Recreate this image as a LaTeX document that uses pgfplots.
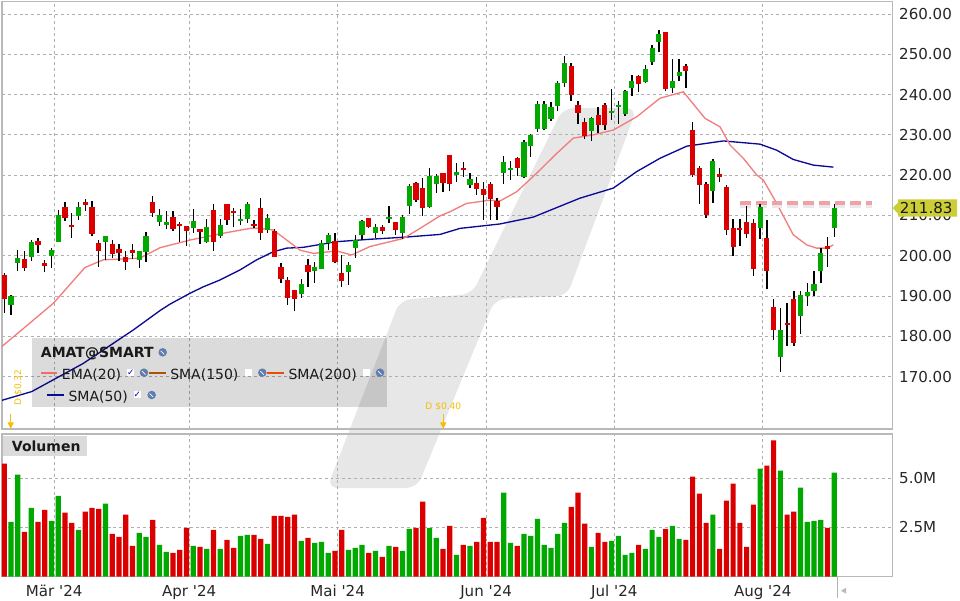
\documentclass[border=0pt]{standalone}
\usepackage{pgfplots}
\pgfplotsset{compat=1.18}
\usepackage{pgfplotstable}
\usetikzlibrary{arrows.meta}
\usepackage{fontspec}
\setmainfont{DejaVu Sans}
\setsansfont{DejaVu Sans}
\definecolor{cgreen}{RGB}{0,168,0}
\definecolor{cred}{RGB}{218,0,0}
\definecolor{emac}{RGB}{242,125,125}
\definecolor{smac}{RGB}{10,10,150}
\definecolor{gridc}{RGB}{175,175,175}
\definecolor{wm}{RGB}{231,231,231}
\definecolor{divc}{RGB}{245,190,0}
\definecolor{lblc}{RGB}{205,205,55}
\definecolor{brownc}{RGB}{170,85,0}
\definecolor{orangec}{RGB}{232,80,0}
\definecolor{globec}{RGB}{95,125,175}
\definecolor{levelc}{RGB}{240,160,168}
\newcommand{\tickfont}{\fontsize{11.3}{13}\selectfont}
\newcommand{\legfont}{\fontsize{10.5}{12}\selectfont}
\newcommand{\globe}[2]{\fill[globec] (#1,#2) circle (3.2pt); \draw[white,line width=0.5pt] (#1-2,#2-1.5) -- (#1+1.5,#2+2);}
\newcommand{\cbox}[2]{\fill[white] (#1-3.5,#2-3.5) rectangle (#1+3.5,#2+3.5);}
\pgfplotstableread{
i O H L C V
0 195.2 195.8 185.7 189.2 5.75
1 187.8 190.3 185.3 190.0 2.79
2 198.3 201.4 196.3 199.5 5.19
3 199.2 201.3 196.3 197.0 2.28
4 199.8 203.9 198.8 203.4 3.50
5 203.7 204.4 200.8 202.8 2.79
6 198.2 199.0 196.1 197.5 3.40
7 199.95 201.9 196.9 201.4 2.84
8 203.5 211.4 203.5 210.1 4.11
9 212.1 213.3 208.7 209.5 3.25
10 207.6 210.5 204.5 207.1 2.74
11 209.96 213.3 209.0 212.1 2.38
12 213.35 214.1 211.1 212.7 3.30
13 212.1 213.6 204.9 205.4 3.50
14 203.2 203.9 197.3 201.3 3.45
15 203.4 204.9 199.0 204.9 3.71
16 202.9 203.8 199.5 200.4 2.18
17 201.7 202.9 198.7 200.7 2.02
18 199.7 201.3 196.5 198.5 3.15
19 201.5 202.9 199.2 200.7 1.56
20 199.0 201.3 197.0 201.2 2.23
21 201.0 205.9 198.5 204.9 2.02
22 213.35 214.9 209.7 210.7 2.89
23 208.4 211.6 207.5 210.2 1.62
24 207.7 211.1 206.6 208.5 1.26
25 209.6 211.1 206.2 206.7 1.21
26 208.0 208.4 203.4 207.5 1.36
27 207.5 207.5 202.5 206.2 2.48
28 207.0 211.6 205.7 208.6 1.56
29 206.7 206.7 203.0 206.0 1.51
30 203.4 209.1 203.3 207.1 1.41
31 211.4 212.9 201.3 203.3 2.38
32 205.0 209.1 204.5 207.6 1.41
33 212.9 212.9 207.6 209.0 1.87
34 211.1 211.9 207.2 210.5 1.46
35 208.6 211.6 207.7 209.1 2.07
36 209.2 213.4 208.1 212.9 2.13
37 208.0 208.9 206.8 207.5 2.13
38 211.9 214.3 204.0 205.7 1.92
39 206.5 210.4 205.7 209.4 1.67
40 206.2 206.7 199.8 199.8 3.09
41 197.2 198.2 193.2 194.3 3.09
42 194.0 194.7 187.8 189.5 3.04
43 191.5 191.5 186.4 189.4 3.15
44 190.5 194.2 189.6 193.0 1.82
45 197.7 199.3 192.3 196.0 1.97
46 196.3 198.4 193.3 197.2 1.72
47 196.8 203.9 196.8 203.1 1.77
48 203.1 205.6 201.4 205.2 1.21
49 203.7 205.6 198.4 198.5 1.31
50 195.8 200.2 192.3 193.8 2.38
51 196.0 198.4 192.75 197.8 1.36
52 202.0 205.2 199.5 203.9 1.46
53 205.2 208.9 203.9 208.6 1.62
54 209.4 209.4 206.8 207.1 1.21
55 205.7 207.9 204.5 207.1 1.31
56 207.1 207.6 205.4 206.2 1.00
57 209.1 212.4 208.1 209.6 1.56
58 208.4 208.4 205.2 206.4 1.51
59 205.7 210.1 204.2 209.6 1.31
60 212.4 217.8 210.4 217.4 2.43
61 218.1 218.4 213.4 213.8 2.48
62 216.8 219.3 209.9 211.9 3.81
63 212.1 221.8 211.8 219.9 2.48
64 217.9 220.3 215.7 219.9 1.97
65 220.55 220.55 215.8 218.0 1.41
66 225.0 225.0 216.2 217.9 2.58
67 220.0 223.0 218.3 220.8 1.11
68 221.8 223.3 219.6 221.4 1.62
69 217.65 220.55 216.8 219.05 1.56
70 218.05 219.55 215.1 216.65 1.77
71 216.6 218.3 208.9 215.1 2.99
72 217.8 218.3 208.8 214.2 1.77
73 213.6 214.3 208.8 212.2 1.77
74 220.6 224.8 217.8 223.3 4.27
75 221.3 223.4 218.8 221.8 1.72
76 224.3 224.6 219.8 221.9 1.56
77 219.55 228.7 219.3 228.25 2.18
78 227.3 230.2 224.4 230.0 2.07
79 231.5 238.4 230.6 237.7 2.94
80 231.5 238.4 231.2 237.7 1.62
81 233.95 238.2 233.45 236.9 1.46
82 237.25 243.4 236.0 242.95 2.18
83 242.95 249.6 241.95 247.85 2.74
84 247.2 247.9 238.5 240.0 3.55
85 237.5 238.4 232.6 235.5 4.27
86 233.2 234.3 229.1 229.7 2.69
87 231.05 234.4 228.4 234.2 1.51
88 234.9 236.9 230.5 232.5 2.23
89 237.4 237.9 231.2 232.5 1.77
90 235.5 241.4 233.8 236.0 1.82
91 236.9 238.5 232.8 237.4 2.07
92 235.3 241.1 234.8 241.0 1.11
93 241.7 244.9 239.6 243.4 1.21
94 244.6 244.9 240.7 242.6 1.62
95 243.1 247.3 242.9 246.35 1.41
96 248.1 252.4 247.3 251.6 2.38
97 253.05 256.0 250.6 255.05 2.02
98 255.5 255.5 241.0 241.4 2.43
99 241.6 248.8 240.5 243.4 2.58
100 244.6 248.8 243.4 245.6 1.92
101 247.1 247.6 241.6 245.9 1.87
102 231.2 233.2 219.6 220.05 5.08
103 221.8 222.3 212.9 217.65 4.22
104 217.8 218.4 209.5 210.2 2.74
105 216.2 224.0 213.2 223.5 3.15
106 220.3 221.8 218.4 219.6 1.41
107 217.1 217.6 205.25 206.5 3.86
108 206.9 209.1 200.0 202.3 4.73
109 206.9 209.1 202.5 206.5 2.74
110 208.4 212.4 204.5 205.5 1.51
111 208.1 209.1 195.1 196.6 3.66
112 207.0 212.9 204.2 212.1 5.49
113 204.4 209.0 191.85 196.3 5.64
114 187.3 189.3 179.2 181.7 6.92
115 174.9 187.05 171.25 181.6 5.39
116 183.4 188.3 177.5 182.9 3.15
117 189.3 191.3 177.5 178.45 3.30
118 185.15 191.3 180.7 190.3 4.52
119 189.9 193.25 187.6 191.0 2.79
120 191.35 196.2 189.9 193.0 2.84
121 196.3 201.9 193.25 200.7 2.89
122 202.4 204.75 197.3 201.7 2.48
123 207.0 212.85 204.75 211.83 5.29
}\candles
\pgfplotsset{
  panel/.style={
    scale only axis, width=667.875pt,
    xmin=-0.34, xmax=131.62,
    axis line style={draw=gray!55, line width=0.8pt},
    xtick={7.4,27.4,49.4,71.4,90.4,112.4},
    xtick style={draw=none}, ytick style={draw=none},
    xmajorgrids, ymajorgrids,
    major grid style={draw=gridc, line width=0.6pt, dash pattern=on 2.2pt off 2.2pt},
    yticklabel pos=right,
    yticklabel style={font=\tickfont, anchor=west, inner sep=0pt, xshift=4.8pt, text=black!85},
    xticklabel style={font=\tickfont, anchor=north, inner sep=0pt, yshift=-6pt, text=black!85},
    /pgf/number format/assume math mode=true,
  },
  candle/.style={draw=none, mark=none, error bars/y explicit, error bars/error mark=none},
}
\begin{document}
\begin{tikzpicture}
\useasboundingbox (0,0) rectangle (720pt,450pt);
\begin{scope}[x=0.75pt,y=-0.75pt,yshift=450pt]
\fill[wm, rounded corners=8pt] (563,108) -- (637,108) -- (567,296) -- (495,299) -- (417,488) -- (327,488) -- (400,300) -- (472,294) -- cycle;
\end{scope}
% price panel
\begin{axis}[panel,
  at={(1.5pt,128.25pt)}, anchor=south west, height=320.625pt,
  ymin=157.02, ymax=263.10,
  xticklabels={},
  ytick={170,180,...,260},
  /pgf/number format/fixed, /pgf/number format/fixed zerofill, /pgf/number format/precision=2,
]
\addplot[smac, line width=1pt] coordinates {(-0.64,164.0) (4.06,166.3) (11.71,173.3) (19.12,181.6) (23.07,186.4) (24.55,188.0) (27.52,190.7) (29.49,192.3) (31.97,194.0) (34.93,196.5) (37.4,199.0) (39.86,201.0) (41.85,201.9) (44.31,202.1) (49.26,203.5) (54.19,204.1) (59.13,204.6) (64.57,205.3) (67.53,206.8) (73.46,207.9) (78.39,209.6) (83.83,213.3) (85.31,214.3) (90.25,216.8) (93.72,220.9) (97.17,224.2) (101.13,227.2) (106.55,228.5) (112.0,227.7) (114.46,226.2) (116.92,223.9) (119.89,222.5) (122.85,222.0)};
\addplot[emac, line width=1pt] coordinates {(-0.64,177.1) (2.58,181.6) (7.26,188.2) (11.96,197.1) (14.67,199.0) (20.1,199.4) (23.07,202.0) (27.52,203.9) (32.45,205.6) (36.41,206.8) (37.9,206.8) (39.86,206.4) (41.85,203.9) (43.82,201.4) (45.79,200.6) (49.26,201.2) (51.48,200.2) (54.19,202.3) (57.16,203.5) (59.13,204.3) (61.6,206.8) (64.57,209.9) (66.0,210.9) (68.52,213.0) (71.98,213.8) (73.46,213.6) (75.93,215.9) (78.9,220.5) (81.86,225.4) (84.32,229.2) (87.29,230.0) (90.25,231.2) (93.72,234.5) (97.17,239.1) (100.62,240.7) (103.84,234.1) (106.06,232.0) (107.54,227.5) (109.51,224.2) (111.5,220.05) (112.48,218.8) (114.46,213.0) (116.92,205.2) (118.91,202.7) (120.39,201.9) (121.87,201.9) (122.85,202.7)};
% horizontal dashed level
\addplot[gray!18, line width=3.5pt, dash pattern=on 8pt off 3.8pt] coordinates {(109.05,212.4) (128.6,212.4)};
\addplot[levelc, line width=2.8pt, dash pattern=on 8pt off 3.8pt] coordinates {(109.05,213.1) (128.6,213.1)};
% upper wicks
\addplot[candle, error bars/.cd, y dir=plus, error bar style={draw=black, line width=1pt}]
  table[x=i, y expr={max(\thisrow{O},\thisrow{C})}, y error expr={\thisrow{H}-max(\thisrow{O},\thisrow{C})}] {\candles};
% lower wicks
\addplot[candle, error bars/.cd, y dir=minus, error bar style={draw=black, line width=1pt}]
  table[x=i, y expr={min(\thisrow{O},\thisrow{C})}, y error expr={min(\thisrow{O},\thisrow{C})-\thisrow{L}}] {\candles};
% bodies
\addplot[candle, x filter/.expression={\thisrow{C}>=\thisrow{O} ? x : nan},
  error bars/.cd, y dir=both, error bar style={draw=cgreen, line width=3.9pt}]
  table[x=i, y expr=(\thisrow{O}+\thisrow{C})/2, y error expr={max(abs(\thisrow{C}-\thisrow{O})/2,0.2)}] {\candles};
\addplot[candle, x filter/.expression={\thisrow{C}<\thisrow{O} ? x : nan},
  error bars/.cd, y dir=both, error bar style={draw=cred, line width=3.9pt}]
  table[x=i, y expr=(\thisrow{O}+\thisrow{C})/2, y error expr={max(abs(\thisrow{C}-\thisrow{O})/2,0.2)}] {\candles};
\end{axis}
% volume panel
\begin{axis}[panel,
  at={(1.5pt,17.5pt)}, anchor=south west, height=107pt,
  ymin=0, ymax=7.25,
  xticklabels={Mär \textquotesingle 24, Apr \textquotesingle 24, Mai \textquotesingle 24, Jun \textquotesingle 24, Jul \textquotesingle 24, Aug \textquotesingle 24},
  ytick={2.5,5}, yticklabels={2.5M,5.0M},
]
\addplot[ybar, bar width=3.9pt, bar shift=0pt, fill=cgreen, draw=none,
  x filter/.expression={\thisrow{C}>=\thisrow{O} ? x : nan}] table[x=i, y=V] {\candles};
\addplot[ybar, bar width=3.9pt, bar shift=0pt, fill=cred, draw=none,
  x filter/.expression={\thisrow{C}<\thisrow{O} ? x : nan}] table[x=i, y=V] {\candles};
\end{axis}
\begin{scope}[x=0.75pt,y=-0.75pt,yshift=450pt]
% legend
\fill[black, opacity=0.14] (31.7,338.3) rectangle (386.7,406.7);
\node[anchor=base west, inner sep=0pt, text=black!90] at (40.7,357.3) {\legfont\bfseries AMAT@SMART};
\globe{162.7}{352.3}
\draw[emac!85!red, line width=1.5pt] (40.7,372.7) -- (57.3,372.7);
\node[anchor=base west, inner sep=0pt, text=black!90] at (61.7,379.3) {\legfont EMA(20)};
\cbox{130.7}{372.7}
\node[inner sep=0pt, text=blue!80!black] at (130.7,372.7) {\fontsize{6.5}{7}\selectfont ✓};
\globe{144}{372.7}
\draw[brownc, line width=1.5pt] (149,372.7) -- (165.7,372.7);
\node[anchor=base west, inner sep=0pt, text=black!90] at (170,379.3) {\legfont SMA(150)};
\cbox{248.3}{372.7}
\globe{262.3}{372.7}
\draw[orangec, line width=1.5pt] (266.7,372.7) -- (284,372.7);
\node[anchor=base west, inner sep=0pt, text=black!90] at (288.3,379.3) {\legfont SMA(200)};
\cbox{366.7}{372.7}
\globe{380}{372.7}
\draw[smac, line width=1.5pt] (47.3,395) -- (64,395);
\node[anchor=base west, inner sep=0pt, text=black!90] at (68.3,401.7) {\legfont SMA(50)};
\cbox{137.3}{395}
\node[inner sep=0pt, text=blue!80!black] at (137.3,395) {\fontsize{6.5}{7}\selectfont ✓};
\globe{151.7}{395}
% volume title
\fill[black, opacity=0.14] (3.3,436) rectangle (86.7,455.7);
\node[anchor=base west, inner sep=0pt, text=black!90] at (11.7,451.7) {\legfont\bfseries Volumen};
% dividends
\node[text=divc, rotate=90, inner sep=0pt] at (18.3,387.5) {\fontsize{6.8}{8}\selectfont D \$0.32};
\node[text=divc, inner sep=0pt] at (443.3,406.7) {\fontsize{6.8}{8}\selectfont D \$0.40};
\draw[divc, line width=0.8pt, -{Triangle[width=4.5pt,length=5pt]}] (10.7,414) -- (10.7,429);
\draw[divc, line width=0.8pt, -{Triangle[width=4.5pt,length=5pt]}] (443.3,414) -- (443.3,429);
% last price label
\fill[lblc] (892.7,208.1) -- (898,202.5) -- (898,199.3) -- (957,199.3) -- (957,216.7) -- (898,216.7) -- (898,213.7) -- cycle;
\node[anchor=west, inner sep=0pt, text=black!90] at (899.5,208.1) {\tickfont 211.83};
% end marker
\draw[gray!60, line width=0.8pt] (837.7,577) -- (837.7,598);
\fill[gray!55] (841,590.7) -- (846,587.8) -- (846,593.6) -- cycle;
\end{scope}
\end{tikzpicture}
\end{document}
